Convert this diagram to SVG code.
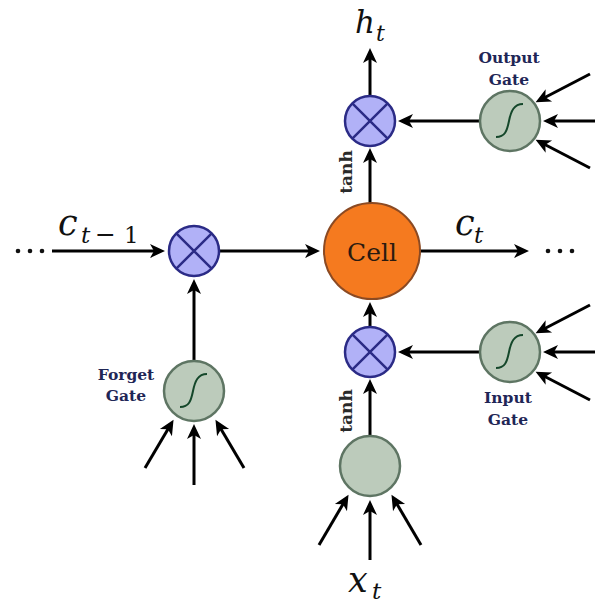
<svg xmlns="http://www.w3.org/2000/svg" width="595" height="603" viewBox="0 0 595 603">
  <style>
    .mul { fill: #b1b1f7; stroke: #2b2b86; stroke-width: 2.5; }
    .mulx { stroke: #2b2b86; stroke-width: 2.5; }
    .gate { fill: #bccbbb; stroke: #5e7563; stroke-width: 2.5; }
    .sig { fill: none; stroke: #14472a; stroke-width: 2; }
    .cell { fill: #f57a1f; stroke: #8b4a23; stroke-width: 2; }
    .edge { stroke: #000; stroke-width: 3; fill: none; }
    .lbl { font-family: "DejaVu Serif", "Liberation Serif", serif; font-weight: bold; font-size: 15.5px; fill: #1f2656; text-anchor: middle; }
    .math { font-family: "DejaVu Serif", "Liberation Serif", serif; font-style: italic; fill: #111; }
    .num { font-family: "DejaVu Serif", "Liberation Serif", serif; fill: #111; }
    .tanh { font-family: "DejaVu Serif", "Liberation Serif", serif; font-weight: bold; font-size: 17px; fill: #2a2a2a; text-anchor: middle; }
    .dot { fill: #111; }
  </style>
  <defs>
    <marker id="arrow" markerUnits="userSpaceOnUse" markerWidth="20" markerHeight="20" viewBox="-2 -8 20 16" refX="10" refY="0" orient="auto">
      <path d="M0,-7 L15,0 L0,7 L4,0 z" fill="#000"/>
    </marker>
    <path id="sigmoid" d="M-14,16 C-5,16 -3,10 -1,0 C1,-10 4,-17 13,-17"/>
  </defs>

  <!-- connectors -->
  <g id="connectors" class="edge" marker-end="url(#arrow)">
    <!-- cell state line -->
    <line x1="52" y1="251" x2="160" y2="251"/>
    <line x1="219" y1="251" x2="315" y2="251"/>
    <line x1="420" y1="251" x2="524" y2="251"/>
    <!-- output path -->
    <line x1="370" y1="203" x2="370" y2="153"/>
    <line x1="370" y1="96" x2="370" y2="53"/>
    <line x1="480" y1="121" x2="403" y2="121"/>
    <line x1="590" y1="74" x2="540" y2="100"/>
    <line x1="595" y1="121" x2="548" y2="121"/>
    <line x1="590" y1="168" x2="540" y2="142"/>
    <!-- forget gate -->
    <line x1="194" y1="361" x2="194" y2="284"/>
    <line x1="145" y1="468" x2="171" y2="424"/>
    <line x1="194" y1="485" x2="194" y2="429"/>
    <line x1="244" y1="468" x2="218" y2="424"/>
    <!-- input path -->
    <line x1="370" y1="327" x2="370" y2="307"/>
    <line x1="370" y1="436" x2="370" y2="384"/>
    <line x1="480" y1="352" x2="403" y2="352"/>
    <line x1="590" y1="305" x2="540" y2="331"/>
    <line x1="595" y1="352" x2="548" y2="352"/>
    <line x1="590" y1="400" x2="540" y2="374"/>
    <!-- tanh input node -->
    <line x1="319" y1="545" x2="346" y2="499"/>
    <line x1="370" y1="560" x2="370" y2="505"/>
    <line x1="421" y1="545" x2="394" y2="499"/>
  </g>

  <!-- continuation dots -->
  <g id="dots-left">
    <circle class="dot" cx="18" cy="251" r="2.3"/>
    <circle class="dot" cx="30" cy="251" r="2.3"/>
    <circle class="dot" cx="42" cy="251" r="2.3"/>
  </g>
  <g id="dots-right">
    <circle class="dot" cx="548" cy="251" r="2.3"/>
    <circle class="dot" cx="560" cy="251" r="2.3"/>
    <circle class="dot" cx="572" cy="251" r="2.3"/>
  </g>

  <!-- cell -->
  <g id="cell">
    <circle class="cell" cx="372" cy="251" r="48"/>
    <text x="372" y="261" font-family="DejaVu Serif, Liberation Serif, serif" font-size="25" fill="#2a1a10" text-anchor="middle">Cell</text>
  </g>

  <!-- multipliers -->
  <g id="mul-forget">
    <circle class="mul" cx="194" cy="251" r="25"/>
    <path class="mulx" d="M176.3,233.3 L211.7,268.7 M211.7,233.3 L176.3,268.7"/>
  </g>
  <g id="mul-output">
    <circle class="mul" cx="370" cy="121" r="25"/>
    <path class="mulx" d="M352.3,103.3 L387.7,138.7 M387.7,103.3 L352.3,138.7"/>
  </g>
  <g id="mul-input">
    <circle class="mul" cx="370" cy="352" r="25"/>
    <path class="mulx" d="M352.3,334.3 L387.7,369.7 M387.7,334.3 L352.3,369.7"/>
  </g>

  <!-- gates -->
  <g id="output-gate">
    <circle class="gate" cx="510" cy="121" r="30"/>
    <use href="#sigmoid" class="sig" transform="translate(510,121)"/>
    <text class="lbl" x="509" y="63">Output</text>
    <text class="lbl" x="509" y="85">Gate</text>
  </g>
  <g id="input-gate">
    <circle class="gate" cx="510" cy="352" r="30"/>
    <use href="#sigmoid" class="sig" transform="translate(510,352)"/>
    <text class="lbl" x="508" y="403">Input</text>
    <text class="lbl" x="508" y="425">Gate</text>
  </g>
  <g id="forget-gate">
    <circle class="gate" cx="194" cy="391" r="30"/>
    <use href="#sigmoid" class="sig" transform="translate(194,391)"/>
    <text class="lbl" x="126" y="380">Forget</text>
    <text class="lbl" x="126" y="401">Gate</text>
  </g>
  <g id="input-node">
    <circle class="gate" cx="370" cy="466" r="30"/>
  </g>

  <!-- tanh labels -->
  <text class="tanh" transform="translate(352,172) rotate(-90)">tanh</text>
  <text class="tanh" transform="translate(352,411) rotate(-90)">tanh</text>

  <!-- math labels -->
  <text class="math" x="355" y="33" font-size="31">h</text>
  <text class="math" x="376" y="41" font-size="22">t</text>
  <text class="math" x="58" y="235" font-size="35">c</text>
  <text class="math" x="81" y="243" font-size="23">t</text>
  <text class="num" x="95" y="243" font-size="25">−</text>
  <text class="num" x="124" y="243" font-size="23">1</text>
  <text class="math" x="455" y="235" font-size="35">c</text>
  <text class="math" x="474" y="243" font-size="23">t</text>
  <text class="math" x="348" y="592" font-size="35">x</text>
  <text class="math" x="372" y="599" font-size="23">t</text>
</svg>
